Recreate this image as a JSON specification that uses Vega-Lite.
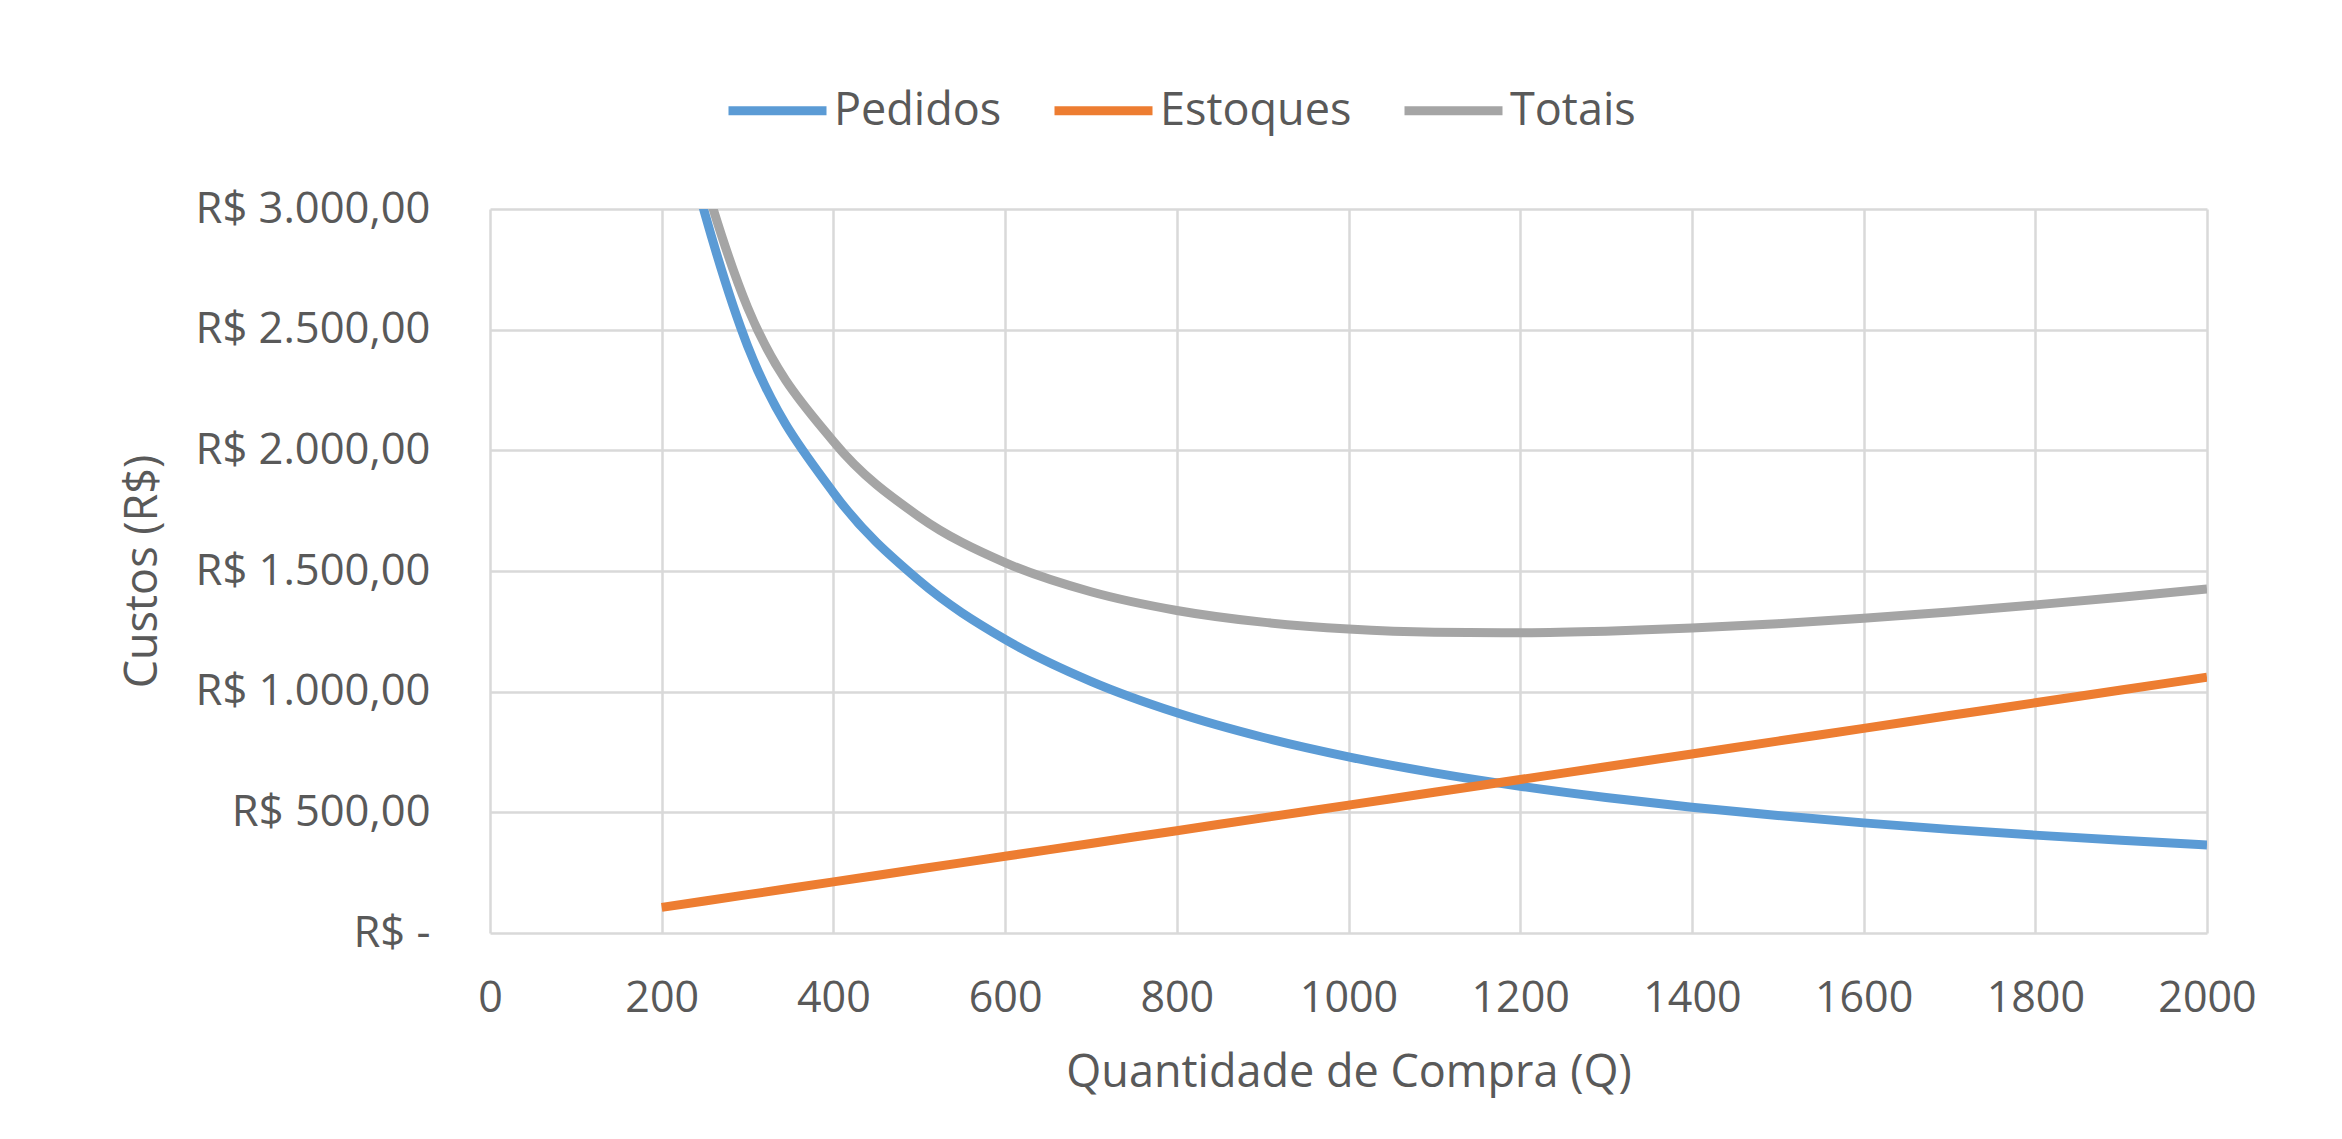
{
  "$schema": "https://vega.github.io/schema/vega-lite/v6.json",
  "width": 1717,
  "height": 724,
  "autosize": {"type": "none"},
  "padding": {"left": 490, "top": 209, "right": 135, "bottom": 206},
  "background": "white",
  "data": {
    "values": [
      {"Q": 200, "serie": "Pedidos", "custo": 3650},
      {"Q": 300, "serie": "Pedidos", "custo": 2433.3},
      {"Q": 400, "serie": "Pedidos", "custo": 1825},
      {"Q": 500, "serie": "Pedidos", "custo": 1460},
      {"Q": 600, "serie": "Pedidos", "custo": 1216.7},
      {"Q": 700, "serie": "Pedidos", "custo": 1042.9},
      {"Q": 800, "serie": "Pedidos", "custo": 912.5},
      {"Q": 900, "serie": "Pedidos", "custo": 811.1},
      {"Q": 1000, "serie": "Pedidos", "custo": 730},
      {"Q": 1100, "serie": "Pedidos", "custo": 663.6},
      {"Q": 1200, "serie": "Pedidos", "custo": 608.3},
      {"Q": 1300, "serie": "Pedidos", "custo": 561.5},
      {"Q": 1400, "serie": "Pedidos", "custo": 521.4},
      {"Q": 1500, "serie": "Pedidos", "custo": 486.7},
      {"Q": 1600, "serie": "Pedidos", "custo": 456.3},
      {"Q": 1700, "serie": "Pedidos", "custo": 429.4},
      {"Q": 1800, "serie": "Pedidos", "custo": 405.6},
      {"Q": 1900, "serie": "Pedidos", "custo": 384.2},
      {"Q": 2000, "serie": "Pedidos", "custo": 365},
      {"Q": 200, "serie": "Estoques", "custo": 106},
      {"Q": 300, "serie": "Estoques", "custo": 159},
      {"Q": 400, "serie": "Estoques", "custo": 212},
      {"Q": 500, "serie": "Estoques", "custo": 265},
      {"Q": 600, "serie": "Estoques", "custo": 318},
      {"Q": 700, "serie": "Estoques", "custo": 371},
      {"Q": 800, "serie": "Estoques", "custo": 424},
      {"Q": 900, "serie": "Estoques", "custo": 477},
      {"Q": 1000, "serie": "Estoques", "custo": 530},
      {"Q": 1100, "serie": "Estoques", "custo": 583},
      {"Q": 1200, "serie": "Estoques", "custo": 636},
      {"Q": 1300, "serie": "Estoques", "custo": 689},
      {"Q": 1400, "serie": "Estoques", "custo": 742},
      {"Q": 1500, "serie": "Estoques", "custo": 795},
      {"Q": 1600, "serie": "Estoques", "custo": 848},
      {"Q": 1700, "serie": "Estoques", "custo": 901},
      {"Q": 1800, "serie": "Estoques", "custo": 954},
      {"Q": 1900, "serie": "Estoques", "custo": 1007},
      {"Q": 2000, "serie": "Estoques", "custo": 1060},
      {"Q": 200, "serie": "Totais", "custo": 3756},
      {"Q": 300, "serie": "Totais", "custo": 2592.3},
      {"Q": 400, "serie": "Totais", "custo": 2037},
      {"Q": 500, "serie": "Totais", "custo": 1725},
      {"Q": 600, "serie": "Totais", "custo": 1534.7},
      {"Q": 700, "serie": "Totais", "custo": 1413.9},
      {"Q": 800, "serie": "Totais", "custo": 1336.5},
      {"Q": 900, "serie": "Totais", "custo": 1288.1},
      {"Q": 1000, "serie": "Totais", "custo": 1260},
      {"Q": 1100, "serie": "Totais", "custo": 1246.6},
      {"Q": 1200, "serie": "Totais", "custo": 1244.3},
      {"Q": 1300, "serie": "Totais", "custo": 1250.5},
      {"Q": 1400, "serie": "Totais", "custo": 1263.4},
      {"Q": 1500, "serie": "Totais", "custo": 1281.7},
      {"Q": 1600, "serie": "Totais", "custo": 1304.3},
      {"Q": 1700, "serie": "Totais", "custo": 1330.4},
      {"Q": 1800, "serie": "Totais", "custo": 1359.6},
      {"Q": 1900, "serie": "Totais", "custo": 1391.2},
      {"Q": 2000, "serie": "Totais", "custo": 1425}
    ]
  },
  "mark": {"type": "line", "clip": true, "strokeWidth": 9, "interpolate": "monotone"},
  "encoding": {
    "x": {
      "field": "Q",
      "type": "quantitative",
      "scale": {"domain": [0, 2000], "nice": false, "zero": false},
      "axis": {
        "values": [0, 200, 400, 600, 800, 1000, 1200, 1400, 1600, 1800, 2000],
        "format": "d",
        "title": "Quantidade de Compra (Q)",
        "labelFontSize": 43,
        "labelPadding": 44,
        "titlePadding": 30,
        "labelFlush": false
      }
    },
    "y": {
      "field": "custo",
      "type": "quantitative",
      "scale": {"domain": [0, 3000], "nice": false},
      "axis": {
        "values": [0, 500, 1000, 1500, 2000, 2500, 3000],
        "title": "Custos (R$)",
        "labelFontSize": 43.5,
        "labelPadding": 60,
        "titleX": -325,
        "titleY": 362,
        "titleAngle": 270,
        "titleAlign": "center",
        "titleBaseline": "bottom",
        "labelExpr": "datum.value == 0 ? 'R$ -  ' : 'R$ ' + replace(replace(replace(format(datum.value, ',.2f'), ',', '#'), '.', ','), '#', '.')"
      }
    },
    "color": {
      "field": "serie",
      "type": "nominal",
      "sort": ["Pedidos", "Estoques", "Totais"],
      "scale": {"domain": ["Pedidos", "Estoques", "Totais"], "range": ["#5B9BD5", "#ED7D31", "#A5A5A5"]},
      "legend": {
        "title": null,
        "orient": "none",
        "direction": "horizontal",
        "legendX": 234,
        "legendY": -152,
        "symbolType": "stroke",
        "symbolSize": 9604,
        "symbolStrokeWidth": 9,
        "labelOffset": 3,
        "columnPadding": 34,
        "labelFontSize": 45,
        "labelLimit": 0,
        "labelColor": "#595959",
        "labelFont": "Open Sans"
      }
    }
  },
  "config": {
    "font": "Open Sans",
    "view": {"stroke": null},
    "axis": {
      "labelFont": "Open Sans",
      "titleFont": "Open Sans",
      "labelFontSize": 42,
      "titleFontSize": 45,
      "titleFontWeight": "normal",
      "labelColor": "#595959",
      "titleColor": "#595959",
      "labelLimit": 0,
      "ticks": false,
      "tickSize": 0,
      "domain": false,
      "grid": true,
      "gridColor": "#d9d9d9",
      "gridWidth": 2.5,
      "gridOpacity": 1
    }
  }
}
